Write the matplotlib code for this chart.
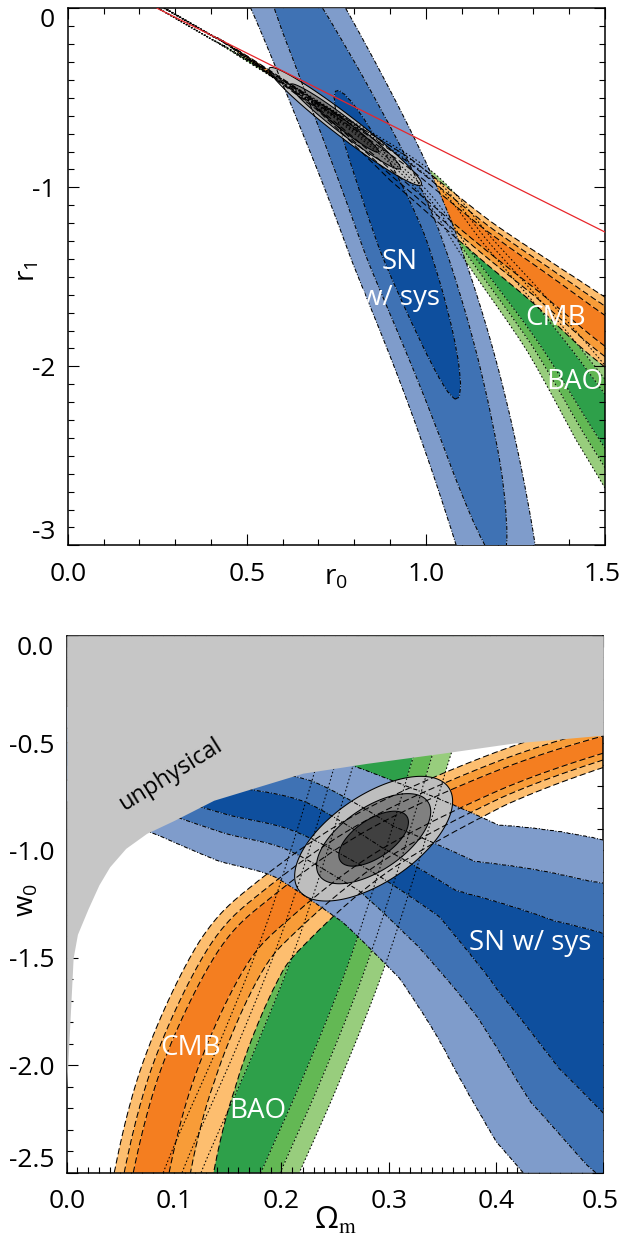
import numpy as np
import matplotlib
matplotlib.use("Agg")
from matplotlib import pyplot as plt
from matplotlib.ticker import MultipleLocator, FixedLocator, FormatStrFormatter
from matplotlib.transforms import ScaledTranslation

plt.rcParams['font.family'] = ['Open Sans', 'DejaVu Sans']
plt.rcParams['mathtext.default'] = 'regular'
plt.rcParams['axes.unicode_minus'] = False

# delta chi^2 for 68.3 / 95.4 / 99.7 % with two parameters
LEVELS = [-1.0, 2.30, 6.18, 11.83]

BLUES = ['#0e4f9e', '#3f72b4', '#7f9ccb']
ORANGES = ['#f47e20', '#f89c38', '#fdbe6f']
GREENS = ['#2ea04a', '#63b854', '#98cd7d']
GREYS = ['#404040', '#808080', '#bebebe']

# ---------------- r0 / r1 plane ----------------
R0_LIM = (0.0, 1.5)
R1_LIM = (-3.0, 0.0)

# ridge of each constraint and its 1-sigma width (axes units)
sn_top_r0 = [0.56, 0.64, 0.76, 0.872, 0.97, 1.058, 1.133, 1.197, 1.24]
sn_top_r1 = [0.3, 0.0, -0.5, -1.0, -1.5, -2.0, -2.5, -3.0, -3.4]
sn_top_sig = [0.029] * 9
sn_top_peak = (0.93, -1.31)

cmb_top_r0 = [0.40, 0.46, 0.70, 0.928, 1.152, 1.338, 1.5, 1.65]
cmb_top_r1 = [-0.15, -0.22, -0.55, -0.90, -1.27, -1.55, -1.80, -2.0]
cmb_top_sig = [0.0003, 0.0004, 0.0018, 0.008, 0.0095, 0.012, 0.0155, 0.018]

bao_top_r0 = [0.40, 0.46, 0.75, 1.0, 1.152, 1.338, 1.5, 1.65]
bao_top_r1 = [-0.17, -0.24, -0.60, -0.97, -1.36, -1.83, -2.30, -2.74]
bao_top_sig = [0.0003, 0.0004, 0.0015, 0.0065, 0.0095, 0.0135, 0.019, 0.022]

# combined fit: centre, sigmas, correlation
all_top = (0.775, -0.66, 0.062, 0.096, -0.972)

red_r0 = [0.25, 1.5]
red_r1 = [0.0, -1.25]

# ---------------- Omega_m / w0 plane ----------------
OM_LIM = (0.0, 0.5)
W_LIM = (-2.5, 0.0)

# SN ridge with the distance (axes units) of the 68/95/99.7 % edges on each side
sn_bot_om = [0.0, 0.05, 0.10, 0.155, 0.2175, 0.29, 0.357, 0.43, 0.5, 0.56]
sn_bot_w = [-0.55, -0.63, -0.70, -0.77, -0.843, -1.03, -1.232, -1.48, -1.77, -2.03]
sn_up_68 = [0.020, 0.020, 0.023, 0.027, 0.029, 0.0185, 0.021, 0.077, 0.166, 0.18]
sn_up_95 = [0.046, 0.046, 0.053, 0.062, 0.070, 0.064, 0.086, 0.172, 0.282, 0.30]
sn_up_997 = [0.085, 0.085, 0.097, 0.115, 0.120, 0.144, 0.167, 0.260, 0.367, 0.39]
sn_dn_68 = [0.020, 0.020, 0.023, 0.027, 0.029, 0.029, 0.036, 0.090, 0.128, 0.14]
sn_dn_95 = [0.046, 0.046, 0.053, 0.062, 0.066, 0.072, 0.105, 0.153, 0.210, 0.23]
sn_dn_997 = [0.085, 0.085, 0.097, 0.115, 0.122, 0.138, 0.173, 0.245, 0.308, 0.33]

cmb_bot_om = [0.066, 0.072, 0.10, 0.15, 0.20, 0.285, 0.40, 0.50, 0.58]
cmb_bot_w = [-2.8, -2.5, -2.0, -1.5, -1.25, -0.95, -0.68, -0.51, -0.42]
cmb_bot_sig_l = [0.0116, 0.0116, 0.012, 0.013, 0.013, 0.012, 0.011, 0.010, 0.010]
cmb_bot_sig_r = [0.0273, 0.0273, 0.026, 0.022, 0.018, 0.014, 0.010, 0.0084, 0.0084]

bao_bot_om = [0.13, 0.153, 0.197, 0.237, 0.27, 0.30, 0.32]
bao_bot_w = [-2.8, -2.5, -2.0, -1.5, -1.0, -0.5, -0.2]
bao_bot_sig = [0.034] * 7

all_bot = (0.286, -0.945, 0.0214, 0.0844, 0.6)

unphys_om = [0.0, 0.001, 0.006, 0.01, 0.02, 0.03, 0.04, 0.055, 0.0745, 0.10, 0.137,
             0.22, 0.28, 0.35, 0.416, 0.5]
unphys_w = [-2.1, -2.0, -1.5, -1.39, -1.27, -1.16, -1.076, -0.99, -0.92, -0.86, -0.766,
            -0.64, -0.594, -0.547, -0.50, -0.463]


def catmull_rom(pts, n=60):
    ext = np.vstack([2 * pts[0] - pts[1], pts, 2 * pts[-1] - pts[-2]])
    t = np.linspace(0, 1, n, endpoint=False)[:, None]
    out, idx = [], []
    for i in range(1, len(ext) - 2):
        p0, p1, p2, p3 = ext[i - 1:i + 3]
        out.append(0.5 * (2 * p1 + (p2 - p0) * t + (2 * p0 - 5 * p1 + 4 * p2 - p3) * t ** 2
                          + (3 * p1 - p0 - 3 * p2 + p3) * t ** 3))
        idx.append(i - 1 + t[:, 0])
    out.append(pts[-1:])
    idx.append([len(pts) - 1])
    return np.vstack(out), np.concatenate(idx)


def edge_profile(x, d1, d2, d3):
    # monotone chi^2 that hits the three levels at the given distances
    return np.select([x < d1, x < d2, x < d3],
                     [2.30 * (x / d1) ** 2,
                      2.30 + 3.88 * (x - d1) / (d2 - d1),
                      6.18 + 5.65 * (x - d2) / (d3 - d2)],
                     11.83 + 20.0 * (x - d3) / d3)


def band_chi2(gx, gy, xs, ys, xlim, ylim, sig_l=None, sig_r=None, p=2.0,
              edges_l=None, edges_r=None, peak=None, tau=None, pa=2.0):
    # distances are measured in axes units so both directions count alike
    fx = lambda v: (np.asarray(v, float) - xlim[0]) / (xlim[1] - xlim[0])
    fy = lambda v: (np.asarray(v, float) - ylim[0]) / (ylim[1] - ylim[0])
    pts = np.column_stack([fx(xs), fy(ys)])
    curve, idx = catmull_rom(pts)
    tang = np.gradient(curve, axis=0)
    tang /= np.hypot(tang[:, 0], tang[:, 1])[:, None]
    norm = np.column_stack([-tang[:, 1], tang[:, 0]])
    arc = np.concatenate([[0], np.cumsum(np.hypot(*np.diff(curve, axis=0).T))])
    knots = np.arange(len(xs))
    along = lambda v: np.interp(idx, knots, v)
    if edges_l is None:
        edges_l = [np.asarray(sig_l) * k ** (1 / p) for k in LEVELS[1:]]
        edges_r = [np.asarray(sig_r) * k ** (1 / p) for k in LEVELS[1:]]
    el = [along(e) for e in edges_l]
    er = [along(e) for e in edges_r]
    s0 = None
    if peak is not None:
        pk = np.array([fx(peak[0]), fy(peak[1])])
        s0 = arc[((curve - pk) ** 2).sum(1).argmin()]
    P = np.column_stack([fx(gx).ravel(), fy(gy).ravel()])
    chi2 = np.empty(len(P))
    step = 6000
    for a in range(0, len(P), step):
        q = P[a:a + step]
        j = ((q[:, None, :] - curve[None, :, :]) ** 2).sum(-1).argmin(1)
        d = ((q - curve[j]) * norm[j]).sum(1)
        c = np.where(d > 0,
                     edge_profile(np.abs(d), el[0][j], el[1][j], el[2][j]),
                     edge_profile(np.abs(d), er[0][j], er[1][j], er[2][j]))
        if s0 is not None:
            c = c + (np.abs(arc[j] - s0) / tau) ** pa
        chi2[a:a + step] = c
    return chi2.reshape(gx.shape)


def ellipse_chi2(gx, gy, cx, cy, sx, sy, rho):
    dx = (gx - cx) / sx
    dy = (gy - cy) / sy
    return (dx * dx - 2 * rho * dx * dy + dy * dy) / (1 - rho * rho)


def fill(ax, gx, gy, chi2, colors, z):
    ax.contourf(gx, gy, chi2, levels=LEVELS, colors=colors, zorder=z, antialiased=True)


def outline(ax, gx, gy, chi2, dash):
    cs = ax.contour(gx, gy, chi2, levels=LEVELS[1:], colors='k', linewidths=0.75, zorder=5)
    cs.set_linestyle(dash)


def style(ax, xmaj, xmin, ymaj, ymin, xfmt, yfmt):
    ax.xaxis.set_major_locator(FixedLocator(xmaj))
    ax.xaxis.set_minor_locator(MultipleLocator(xmin))
    ax.yaxis.set_major_locator(FixedLocator(ymaj))
    ax.yaxis.set_minor_locator(MultipleLocator(ymin))
    ax.xaxis.set_major_formatter(FormatStrFormatter(xfmt))
    ax.yaxis.set_major_formatter(FormatStrFormatter(yfmt))
    ax.tick_params(which='both', direction='in', top=True, right=True, width=0.8,
                   labelsize=19, colors='k')
    ax.tick_params(axis='x', which='major', length=8, pad=12)
    ax.tick_params(axis='y', which='major', length=8, pad=9)
    ax.tick_params(which='minor', length=4)
    for s in ax.spines.values():
        s.set_linewidth(1.1)


SN_DASH = (0, (4, 1.6, 1, 1.6))
CMB_DASH = (0, (6, 3))
BAO_DASH = (0, (1.5, 2.2))

fig = plt.figure(figsize=(6.22, 12.37), dpi=100)
ax1 = fig.add_axes([0.10884, 0.55917, 0.86383, 0.43412])
ax2 = fig.add_axes([0.10723, 0.05198, 0.86270, 0.43412])

# ---- top panel ----
gx, gy = np.meshgrid(np.linspace(*R0_LIM, 360), np.linspace(*R1_LIM, 360))
c_bao = band_chi2(gx, gy, bao_top_r0, bao_top_r1, R0_LIM, R1_LIM,
                  sig_l=bao_top_sig, sig_r=bao_top_sig)
c_cmb = band_chi2(gx, gy, cmb_top_r0, cmb_top_r1, R0_LIM, R1_LIM,
                  sig_l=cmb_top_sig, sig_r=cmb_top_sig)
c_sn = band_chi2(gx, gy, sn_top_r0, sn_top_r1, R0_LIM, R1_LIM,
                 sig_l=sn_top_sig, sig_r=sn_top_sig, peak=sn_top_peak, tau=0.17, pa=1.4)
c_all = ellipse_chi2(gx, gy, *all_top)

fill(ax1, gx, gy, c_bao, GREENS, 1)
fill(ax1, gx, gy, c_cmb, ORANGES, 2)
fill(ax1, gx, gy, c_sn, BLUES, 3)
fill(ax1, gx, gy, c_all, GREYS, 4)
outline(ax1, gx, gy, c_sn, SN_DASH)
outline(ax1, gx, gy, c_cmb, CMB_DASH)
outline(ax1, gx, gy, c_bao, BAO_DASH)
outline(ax1, gx, gy, c_all, 'solid')
ax1.plot(red_r0, red_r1, color='#e8262a', lw=0.9, zorder=7)

for x, y, s in [(0.928, -1.417, 'SN'), (0.93, -1.62, 'w/ sys'),
                (1.361, -1.73, 'CMB'), (1.416, -2.088, 'BAO')]:
    ax1.text(x, y, s, color='w', fontsize=20, ha='center', va='center', zorder=8)

ax1.set_xlim(*R0_LIM)
ax1.set_ylim(*R1_LIM)
style(ax1, [0.0, 0.5, 1.0, 1.5], 0.1, [-3, -2, -1, 0], 0.1, '%.1f', '%d')
ax1.text(0.5, -0.06, 'r$_0$', transform=ax1.transAxes, fontsize=20, ha='center', va='center')
ax1.text(-0.074, 0.51, 'r$_1$', transform=ax1.transAxes, fontsize=20, ha='center',
         va='center', rotation=90)

# ---- bottom panel ----
gx, gy = np.meshgrid(np.linspace(*OM_LIM, 360), np.linspace(*W_LIM, 360))
c_bao = band_chi2(gx, gy, bao_bot_om, bao_bot_w, OM_LIM, W_LIM,
                  sig_l=bao_bot_sig, sig_r=bao_bot_sig)
c_cmb = band_chi2(gx, gy, cmb_bot_om, cmb_bot_w, OM_LIM, W_LIM,
                  sig_l=cmb_bot_sig_l, sig_r=cmb_bot_sig_r, p=1.6)
c_sn = band_chi2(gx, gy, sn_bot_om, sn_bot_w, OM_LIM, W_LIM,
                 edges_l=[sn_up_68, sn_up_95, sn_up_997],
                 edges_r=[sn_dn_68, sn_dn_95, sn_dn_997])
c_all = ellipse_chi2(gx, gy, *all_bot)

fill(ax2, gx, gy, c_bao, GREENS, 1)
fill(ax2, gx, gy, c_cmb, ORANGES, 2)
fill(ax2, gx, gy, c_sn, BLUES, 3)
fill(ax2, gx, gy, c_all, GREYS, 4)
outline(ax2, gx, gy, c_sn, SN_DASH)
outline(ax2, gx, gy, c_cmb, CMB_DASH)
outline(ax2, gx, gy, c_bao, BAO_DASH)
outline(ax2, gx, gy, c_all, 'solid')
ax2.fill_between(unphys_om, unphys_w, 0.0, color='#c6c6c6', lw=0, zorder=6)

ax2.text(0.4317, -1.432, 'SN w/ sys', color='w', fontsize=20, ha='center', va='center', zorder=8)
ax2.text(0.115, -1.921, 'CMB', color='w', fontsize=20, ha='center', va='center', zorder=8)
ax2.text(0.178, -2.211, 'BAO', color='w', fontsize=20, ha='center', va='center', zorder=8)
ax2.text(0.097, -0.649, 'unphysical', color='k', fontsize=17, ha='center', va='center',
         rotation=32, zorder=8)

ax2.set_xlim(*OM_LIM)
ax2.set_ylim(*W_LIM)
style(ax2, [0.0, 0.1, 0.2, 0.3, 0.4, 0.5], 0.01, [-2.5, -2.0, -1.5, -1.0, -0.5, 0.0], 0.1,
      '%.1f', '%.1f')
ax2.text(0.5, -0.088, r'$\Omega_{\rm m}$', transform=ax2.transAxes, fontsize=22,
         ha='center', va='center', math_fontfamily='stix')
ax2.text(-0.074, 0.508, 'w$_0$', transform=ax2.transAxes, fontsize=20, ha='center',
         va='center', rotation=90)

# end labels on the y axes sit inside the frame, last x label nudged in
fig.canvas.draw()
for ax in (ax1, ax2):
    ticks = ax.yaxis.get_major_ticks()
    ticks[0].label1.set_va('bottom')
    ticks[-1].label1.set_va('top')
    lab = ax.xaxis.get_major_ticks()[-1].label1
    lab.set_transform(lab.get_transform() + ScaledTranslation(-0.03, 0, fig.dpi_scale_trans))

fig.savefig('out.png', dpi=100)
